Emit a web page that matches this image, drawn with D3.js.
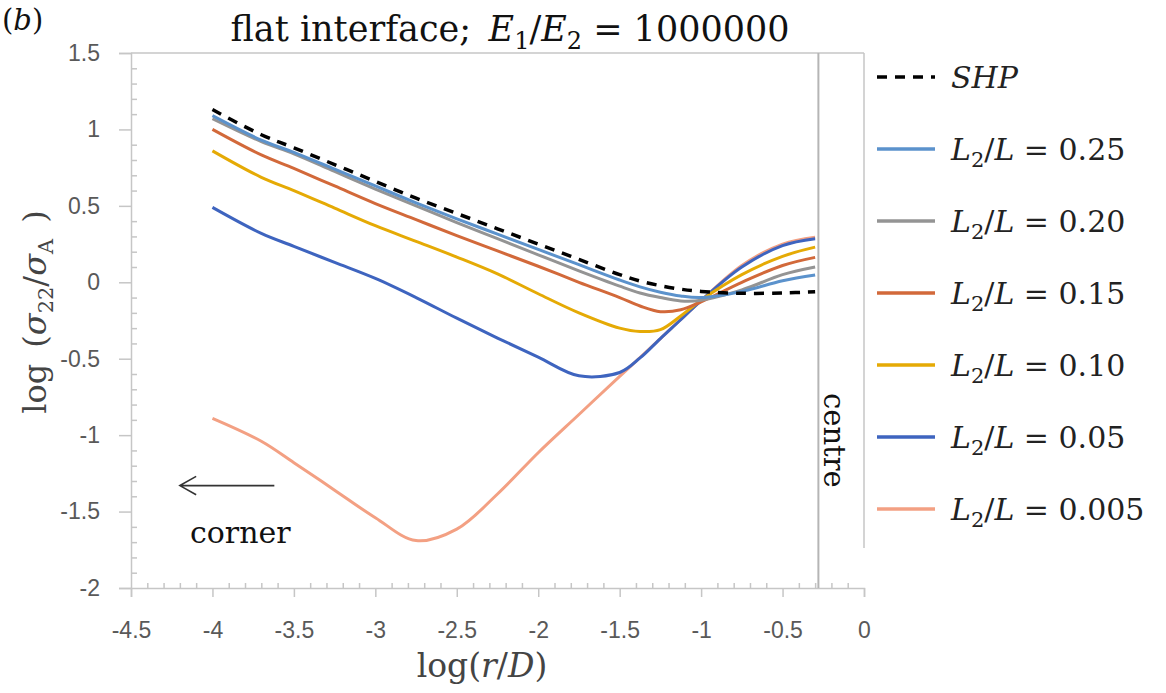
<!DOCTYPE html>
<html>
<head>
<meta charset="utf-8">
<script src="https://cdn.jsdelivr.net/npm/d3@7"></script>
<style>
  body { margin: 0; background: #fff; }
  svg { display: block; }
</style>
</head>
<body>
<svg id="chart" width="1166" height="693"></svg>
<script>
// log(r/D) sample points shared by every series
const xVals = [-4, -3.7, -3.5, -3.25, -3, -2.75, -2.5, -2.25, -2, -1.75, -1.5, -1.375, -1.25, -1.125, -1, -0.75, -0.5, -0.3];

const shp   = [1.13, 0.965, 0.88, 0.77, 0.66, 0.55, 0.45, 0.35, 0.25, 0.15, 0.05, 0.008, -0.022, -0.045, -0.06, -0.072, -0.07, -0.062];
const l025  = [1.09, 0.93, 0.85, 0.74, 0.63, 0.52, 0.415, 0.315, 0.215, 0.115, 0.015, -0.03, -0.065, -0.09, -0.10, -0.06, 0.01, 0.048];
const l020  = [1.07, 0.92, 0.84, 0.725, 0.61, 0.50, 0.39, 0.285, 0.18, 0.075, -0.025, -0.07, -0.10, -0.122, -0.118, -0.05, 0.05, 0.10];
const l015  = [1.00, 0.833, 0.745, 0.63, 0.515, 0.41, 0.305, 0.205, 0.105, 0.0, -0.10, -0.155, -0.192, -0.18, -0.128, 0.0, 0.11, 0.163];
const l010  = [0.86, 0.687, 0.60, 0.485, 0.37, 0.268, 0.165, 0.055, -0.075, -0.20, -0.30, -0.322, -0.31, -0.22, -0.117, 0.05, 0.17, 0.23];
const l005  = [0.49, 0.32, 0.235, 0.13, 0.025, -0.10, -0.235, -0.365, -0.49, -0.612, -0.59, -0.495, -0.368, -0.245, -0.12, 0.10, 0.24, 0.285];
const l0005 = [-0.89, -1.04, -1.18, -1.36, -1.54, -1.69, -1.615, -1.385, -1.115, -0.865, -0.615, -0.492, -0.368, -0.243, -0.12, 0.11, 0.25, 0.295];

const seriesNames = ["SHP", "0.25", "0.20", "0.15", "0.10", "0.05", "0.005"];
const seriesValues = [shp, l025, l020, l015, l010, l005, l0005];
const seriesColors = ["#000000", "#5b92cc", "#949494", "#d2693a", "#e5aa05", "#3e64bf", "#f3a083"];

const xTicks = [-4.5, -4, -3.5, -3, -2.5, -2, -1.5, -1, -0.5, 0];
const yTicks = [-2, -1.5, -1, -0.5, 0, 0.5, 1, 1.5];
const centreX = -0.28;

const svg = d3.select("#chart");
const serif = "DejaVu Serif";
const sans = "Liberation Sans";
const axisGray = "#c6c6c6";

const x = d3.scaleLinear().domain([-4.5, 0]).range([131, 864]);
const y = d3.scaleLinear().domain([-2, 1.5]).range([588, 53]);

// minor ticks (every 0.1)
const xMinor = d3.range(-45, 1).map(d => d / 10).filter(d => !xTicks.some(t => Math.abs(t - d) < 1e-9));
const yMinor = d3.range(-20, 16).map(d => d / 10).filter(d => !yTicks.some(t => Math.abs(t - d) < 1e-9));

// top and right frame lines
svg.append("line")
  .attr("x1", x(-4.5)).attr("x2", x(0))
  .attr("y1", y(1.5)).attr("y2", y(1.5))
  .attr("stroke", axisGray).attr("stroke-width", 1.5);
svg.append("line")
  .attr("x1", x(0)).attr("x2", x(0))
  .attr("y1", y(1.5)).attr("y2", 548)
  .attr("stroke", axisGray).attr("stroke-width", 1.5);

// x axis
const gx = svg.append("g").attr("transform", `translate(0,${y(-2)})`);
gx.call(d3.axisBottom(x).tickValues(xTicks).tickSize(9).tickPadding(25).tickFormat(d => String(d)));
gx.append("g").call(d3.axisBottom(x).tickValues(xMinor).tickSize(-5).tickFormat(""))
  .select(".domain").remove();

// y axis
const gy = svg.append("g").attr("transform", `translate(${x(-4.5)},0)`);
gy.call(d3.axisLeft(y).tickValues(yTicks).tickSize(12).tickPadding(19).tickFormat(d => String(d)));
gy.append("g").call(d3.axisLeft(y).tickValues(yMinor).tickSize(-6).tickFormat(""))
  .select(".domain").remove();

svg.selectAll(".domain").attr("stroke", axisGray).attr("stroke-width", 1.5);
svg.selectAll(".tick line").attr("stroke", axisGray).attr("stroke-width", 1.5);
svg.selectAll(".tick text")
  .attr("fill", "#595959")
  .attr("font-family", sans)
  .attr("font-size", 23);

// centre line
svg.append("line")
  .attr("x1", x(centreX)).attr("x2", x(centreX))
  .attr("y1", y(1.5)).attr("y2", y(-2))
  .attr("stroke", "#b5b5b5").attr("stroke-width", 2);

// curves (Excel style smoothing)
const line = d3.line()
  .x(d => x(d[0]))
  .y(d => y(d[1]))
  .curve(d3.curveCatmullRom.alpha(0.5));

const order = [6, 5, 4, 3, 2, 1, 0];
order.forEach(i => {
  const pts = xVals.map((v, k) => [v, seriesValues[i][k]]);
  svg.append("path")
    .datum(pts)
    .attr("d", line)
    .attr("fill", "none")
    .attr("stroke", seriesColors[i])
    .attr("stroke-width", i === 0 ? 3.5 : 3)
    .attr("stroke-dasharray", i === 0 ? "10,8" : null)
    .attr("stroke-linejoin", "round");
});

// title
const title = svg.append("text")
  .attr("x", 510).attr("y", 41)
  .attr("text-anchor", "middle")
  .attr("font-family", serif).attr("font-size", 35).attr("fill", "#111");
title.append("tspan").text("flat interface;\u2002");
title.append("tspan").attr("font-style", "italic").text("E");
title.append("tspan").attr("font-size", 24).attr("dy", 8).text("1");
title.append("tspan").attr("dy", -8).text("/");
title.append("tspan").attr("font-style", "italic").text("E");
title.append("tspan").attr("font-size", 24).attr("dy", 8).text("2");
title.append("tspan").attr("dy", -8).text(" = 1000000");

// panel tag
const tag = svg.append("text")
  .attr("x", 2).attr("y", 30)
  .attr("font-family", serif).attr("font-size", 29).attr("fill", "#111");
tag.append("tspan").text("(");
tag.append("tspan").attr("font-style", "italic").text("b");
tag.append("tspan").text(")");

// axis titles
const xt = svg.append("text")
  .attr("x", 482).attr("y", 677)
  .attr("text-anchor", "middle")
  .attr("font-family", serif).attr("font-size", 33).attr("fill", "#444");
xt.append("tspan").text("log(");
xt.append("tspan").attr("font-style", "italic").text("r");
xt.append("tspan").text("/");
xt.append("tspan").attr("font-style", "italic").text("D");
xt.append("tspan").text(")");

const yt = svg.append("text")
  .attr("transform", "translate(46,312) rotate(-90)")
  .attr("text-anchor", "middle")
  .attr("font-family", serif).attr("font-size", 32).attr("fill", "#444");
yt.append("tspan").text("log\u2002(");
yt.append("tspan").attr("font-style", "italic").text("σ");
yt.append("tspan").attr("font-size", 21).attr("dy", 7).text("22");
yt.append("tspan").attr("dy", -7).text("/");
yt.append("tspan").attr("font-style", "italic").text("σ");
yt.append("tspan").attr("font-size", 21).attr("dy", 7).text("A");
yt.append("tspan").attr("dy", -7).text("\u2002)");

// annotations
svg.append("path")
  .attr("d", `M${x(-3.62)},${y(-1.33)} H${x(-4.2)} M${x(-4.1)},${y(-1.27)} L${x(-4.2)},${y(-1.33)} L${x(-4.1)},${y(-1.39)}`)
  .attr("fill", "none").attr("stroke", "#333").attr("stroke-width", 1.6);

svg.append("text")
  .attr("x", 190).attr("y", 543)
  .attr("font-family", serif).attr("font-size", 30).attr("fill", "#111")
  .text("corner");

svg.append("text")
  .attr("transform", "translate(824,393) rotate(90)")
  .attr("font-family", serif).attr("font-size", 29).attr("fill", "#111")
  .text("centre");

// legend
const legend = svg.append("g");
seriesNames.forEach((name, i) => {
  const ly = 77 + i * 72;
  legend.append("line")
    .attr("x1", 877).attr("x2", 935)
    .attr("y1", ly).attr("y2", ly)
    .attr("stroke", seriesColors[i])
    .attr("stroke-width", 3.5)
    .attr("stroke-dasharray", i === 0 ? "10,8" : null);
  const t = legend.append("text")
    .attr("x", 951).attr("y", ly + 11)
    .attr("font-family", serif).attr("font-size", 30).attr("fill", "#222");
  if (i === 0) {
    t.append("tspan").attr("font-style", "italic").text("SHP");
  } else {
    t.append("tspan").attr("font-style", "italic").text("L");
    t.append("tspan").attr("font-size", 21).attr("dy", 7).text("2");
    t.append("tspan").attr("dy", -7).text("/");
    t.append("tspan").attr("font-style", "italic").text("L");
    t.append("tspan").text(" = " + name);
  }
});
</script>
</body>
</html>
